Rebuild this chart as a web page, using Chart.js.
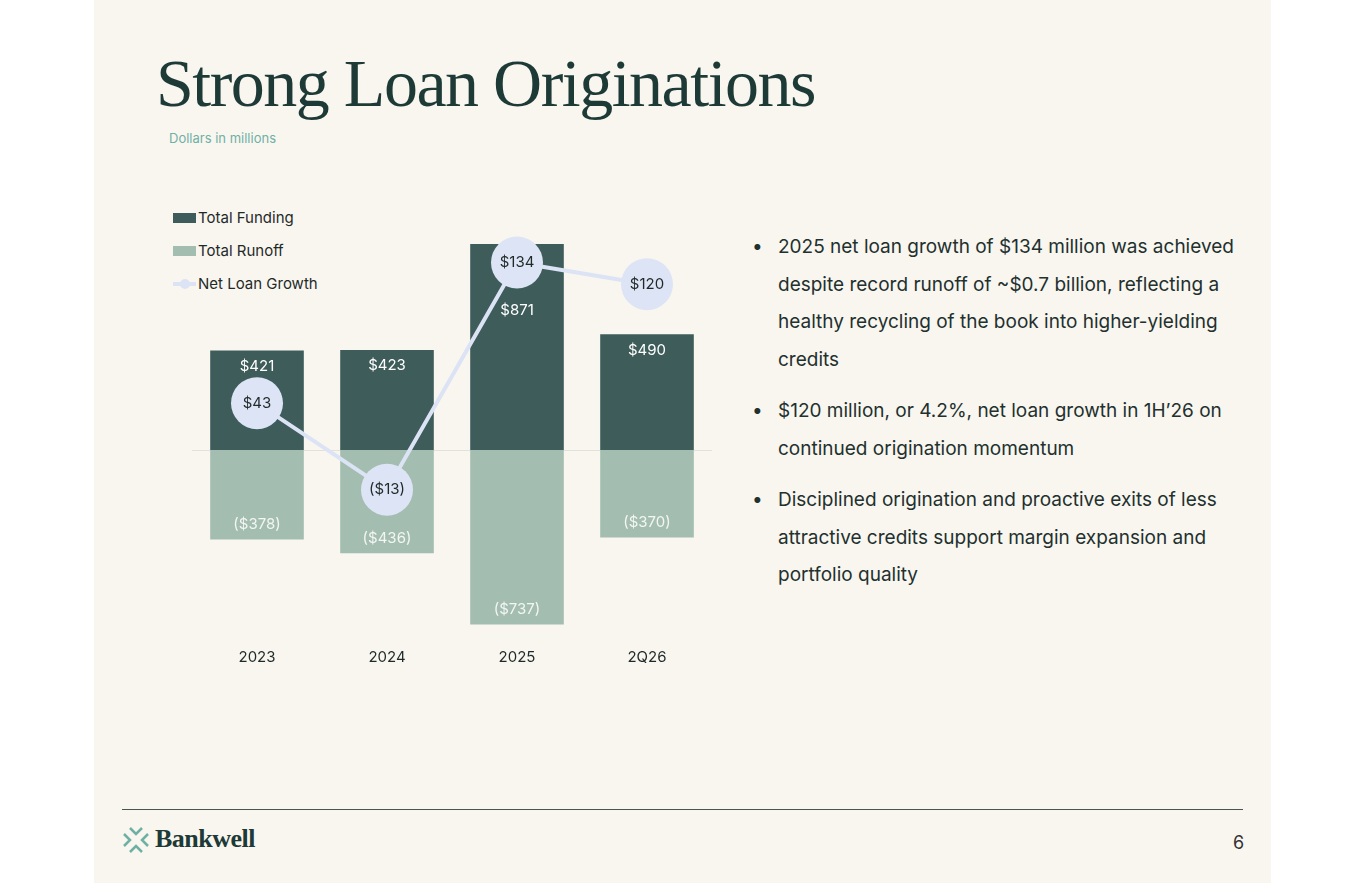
<!DOCTYPE html>
<html><head><meta charset="utf-8">
<script src="https://cdn.jsdelivr.net/npm/chart.js@4"></script>
<style>
body{margin:0;background:#fff;font-family:Inter,"Noto Sans",sans-serif;}
#page{position:absolute;left:94px;top:0;width:1177px;height:883px;background:#f9f6f0;}
#title{position:absolute;left:156px;top:44px;font-family:"Liberation Serif",serif;font-size:68px;color:#1d3a36;letter-spacing:-1.5px;}
#sub{position:absolute;left:169px;top:130px;font-size:13px;color:#6fb0a5;}
#legend{position:absolute;left:173px;top:208px;font-size:15px;color:#1f2a28;}
#legend div{height:33px;display:flex;align-items:flex-start;position:relative;}
.sw{display:inline-block;width:23px;height:10px;margin-top:5px;margin-right:2px;}
.dot{position:absolute;left:7px;top:5px;width:10px;height:10px;border-radius:50%;background:#dbe3f5;}
#bul{position:absolute;left:752px;top:228px;width:500px;font-size:19px;color:#22302e;line-height:37.5px;}
#bul p{margin:0 0 14px 26px;text-indent:-26px;}
#bul p span{display:inline-block;width:26px;text-indent:0;}
#cv{position:absolute;left:192px;top:200px;}
#foot{position:absolute;left:122px;top:809px;width:1121px;border-top:1px solid #4a5553;}
#logo{position:absolute;left:155px;top:824px;font-family:"Liberation Serif",serif;font-weight:bold;font-size:26px;color:#1d3a36;letter-spacing:-0.5px;}
#num{position:absolute;left:1233px;top:832px;font-size:18px;color:#333;}
</style></head><body>
<div id="page"></div>
<div id="title">Strong Loan Originations</div>
<div id="sub">Dollars in millions</div>
<div id="legend">
<div><span class="sw" style="background:#3d5c5a"></span>Total Funding</div>
<div><span class="sw" style="background:#a3bdb0"></span>Total Runoff</div>
<div><span class="sw" style="background:linear-gradient(#f9f6f0 35%,#dbe3f5 35%,#dbe3f5 70%,#f9f6f0 70%)"></span><span class="dot"></span>Net Loan Growth</div>
</div>
<div id="bul">
<p><span>•</span>2025 net loan growth of $134 million was achieved despite record runoff of ~$0.7 billion, reflecting a healthy recycling of the book into higher-yielding credits</p>
<p><span>•</span>$120 million, or 4.2%, net loan growth in 1H’26 on continued origination momentum</p>
<p><span>•</span>Disciplined origination and proactive exits of less attractive credits support margin expansion and portfolio quality</p>
</div>
<canvas id="cv" width="520" height="480"></canvas>
<div id="foot"></div>
<svg style="position:absolute;left:122px;top:826px" width="28" height="28" viewBox="0 0 28 28"><g stroke="#6fb0a5" stroke-width="2.5" fill="none"><path d="M2 8l6 6-6 6M26 8l-6 6 6 6M8 2l6 6 6-6M8 26l6-6 6 6"/></g></svg>
<div id="logo">Bankwell</div>
<div id="num">6</div>
<script>
const years = ['2023', '2024', '2025', '2Q26']
const funding = [421, 423, 871, 490]
const runoff = [-378, -436, -737, -370]
const netGrowth = [43, -13, 134, 120]

function money(v) {
    return v < 0 ? `($${-v})` : `$${v}`
}

const labelsPlugin = {
    id: 'labels',
    beforeDatasetsDraw(chart) {
        const c = chart.ctx, y = chart.scales.y, a = chart.chartArea
        c.save()
        c.strokeStyle = '#e2e2dc'
        c.lineWidth = 1
        c.beginPath()
        c.moveTo(a.left, Math.round(y.getPixelForValue(0)) + 0.5)
        c.lineTo(a.right, Math.round(y.getPixelForValue(0)) + 0.5)
        c.stroke()
        c.restore()
    },
    afterDatasetsDraw(chart) {
        const c = chart.ctx
        const pts = chart.getDatasetMeta(2).data
        c.save()
        c.font = '15px Inter, sans-serif'
        c.textAlign = 'center'
        c.textBaseline = 'middle'
        chart.getDatasetMeta(0).data.forEach((b, i) => {
            let ly = b.y + 16
            // move below the circle if it would sit under it
            if (Math.abs(pts[i].y - ly) < 30) ly = pts[i].y + 48
            c.fillStyle = '#ffffff'
            c.fillText(money(funding[i]), b.x, ly)
        })
        chart.getDatasetMeta(1).data.forEach((b, i) => {
            c.fillStyle = '#f3f6f3'
            c.fillText(money(runoff[i]), b.x, b.y - 15)
        })
        pts.forEach((p, i) => {
            c.fillStyle = '#1f2a28'
            c.fillText(money(netGrowth[i]), p.x, p.y)
        })
        c.restore()
    }
}

new Chart(document.getElementById('cv'), {
    data: {
        labels: years,
        datasets: [
            { type: 'bar', data: funding, backgroundColor: '#3d5c5a', yAxisID: 'y', stack: 's', barPercentage: 0.72, categoryPercentage: 1, order: 2 },
            { type: 'bar', data: runoff, backgroundColor: '#a3bdb0', yAxisID: 'y', stack: 's', barPercentage: 0.72, categoryPercentage: 1, order: 2 },
            { type: 'line', data: netGrowth, yAxisID: 'y2', borderColor: '#dbe3f5', borderWidth: 4, pointRadius: 26, pointBackgroundColor: '#dde4f5', pointBorderWidth: 0, order: 1 }
        ]
    },
    options: {
        responsive: false,
        animation: false,
        layout: { padding: 0, autoPadding: false },
        plugins: { legend: { display: false }, tooltip: { enabled: false } },
        scales: {
            x: {
                stacked: true,
                grid: { display: false },
                border: { display: false },
                ticks: { color: '#1f2a28', font: { size: 15, family: 'Inter' }, padding: 0 },
                afterFit(s) { s.height = 40 }
            },
            y: { stacked: true, display: false, min: -803, max: 1057 },
            y2: { display: false, min: -110.3, max: 174.5 }
        }
    },
    plugins: [labelsPlugin]
})
</script>
</body></html>
